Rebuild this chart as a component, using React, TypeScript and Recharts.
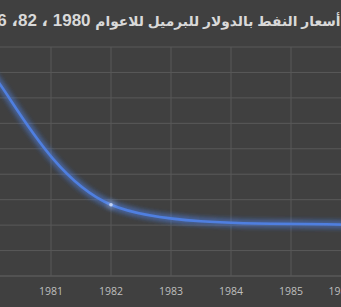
import React from 'react';
import { LineChart, Line, XAxis, YAxis, CartesianGrid } from 'recharts';

const years = [1980, 1982, 1986];
const prices = [80, 28, 20];
const yearTicks = [1980, 1981, 1982, 1983, 1984, 1985, 1986];
const priceTicks = [0, 10, 20, 30, 40, 50, 60, 70, 80, 90];
const titleWords = 'أسعار النفط بالدولار  للبرميل للاعوام';
const titleYears = '1980 ، 82، 86';

const data = years.map((year, i) => ({ year, price: prices[i] }));

// Excel style "smoothed line": bezier segments, control arms 1/6 of the neighbour chord
const excelSmooth = (context: any) => {
  let xs: number[] = [];
  let ys: number[] = [];
  const dist = (a: number, b: number) => Math.hypot(xs[b] - xs[a], ys[b] - ys[a]);
  return {
    areaStart() {},
    areaEnd() {},
    lineStart() {
      xs = [];
      ys = [];
    },
    point(x: number, y: number) {
      xs.push(+x);
      ys.push(+y);
    },
    lineEnd() {
      const n = xs.length;
      if (!n) return;
      context.moveTo(xs[0], ys[0]);
      for (let i = 0; i < n - 1; i++) {
        const p0 = i > 0 ? i - 1 : i;
        const p1 = i;
        const p2 = i + 1;
        const p3 = i + 2 < n ? i + 2 : i + 1;
        const d12 = dist(p1, p2);
        const d02 = dist(p0, p2) || 1;
        const d13 = dist(p1, p3) || 1;
        const f1 = Math.min(1 / 6, d12 / (2 * d02));
        const f2 = Math.min(1 / 6, d12 / (2 * d13));
        context.bezierCurveTo(
          xs[p1] + (xs[p2] - xs[p0]) * f1,
          ys[p1] + (ys[p2] - ys[p0]) * f1,
          xs[p2] - (xs[p3] - xs[p1]) * f2,
          ys[p2] - (ys[p3] - ys[p1]) * f2,
          xs[p2],
          ys[p2]
        );
      }
    }
  };
};

const App: React.FC = () => {
  return (
    <div style={{ position: 'absolute', left: 0, top: 0, width: 341, height: 307, overflow: 'hidden', background: '#404040' }}>
      {/* title, cut off on the left like the original crop */}
      <div
        dir="rtl"
        style={{
          position: 'absolute', right: 0.5, top: 12, whiteSpace: 'nowrap',
          fontFamily: '"Liberation Sans", "DejaVu Sans", sans-serif', fontWeight: 'bold',
          fontSize: 17, lineHeight: '17px', color: '#d9d9d9'
        }}
      >
        <span style={{ fontSize: 13.8 }}>{titleWords}</span> {titleYears}
      </div>

      <div style={{ position: 'absolute', left: -8.7, top: 0 }}>
        <LineChart width={360} height={307} data={data} margin={{ top: 47, right: 0, bottom: 0, left: 0 }}>
          <defs>
            <filter id="glow" filterUnits="userSpaceOnUse" x="-50" y="0" width="460" height="307">
              <feGaussianBlur in="SourceGraphic" stdDeviation="3" result="blur" />
              <feMerge>
                <feMergeNode in="blur" />
                <feMergeNode in="blur" />
                <feMergeNode in="SourceGraphic" />
              </feMerge>
            </filter>
          </defs>
          <CartesianGrid stroke="#595959" strokeWidth={1} />
          <XAxis
            dataKey="year"
            type="number"
            domain={[1980, 1986]}
            ticks={yearTicks}
            height={31}
            tickLine={false}
            tickSize={0}
            tickMargin={12}
            axisLine={{ stroke: '#595959' }}
            tick={{ fill: '#bfbfbf', fontSize: 10.5, fontFamily: '"Open Sans", sans-serif' }}
          />
          <YAxis hide domain={[0, 90]} ticks={priceTicks} />
          <Line
            type={excelSmooth as any}
            dataKey="price"
            stroke="#4f7fe0"
            strokeWidth={2.5}
            filter="url(#glow)"
            dot={{ r: 1.8, fill: '#c2d3f5', stroke: 'none' }}
            isAnimationActive={false}
          />
        </LineChart>
      </div>
    </div>
  );
};

export default App;
